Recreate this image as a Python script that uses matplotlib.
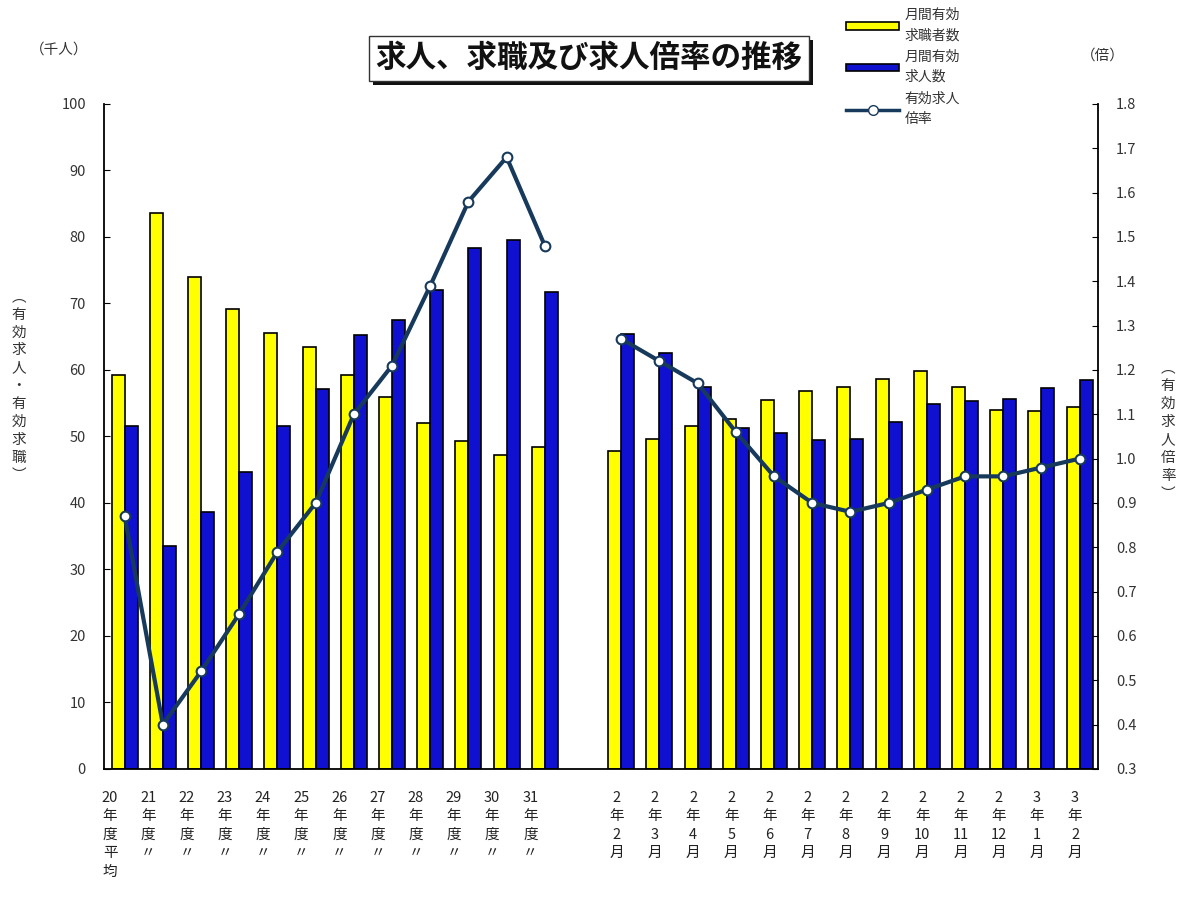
import matplotlib.pyplot as plt
import matplotlib.transforms as mtransforms
from matplotlib.patches import Patch, Rectangle
from matplotlib.lines import Line2D
import numpy as np

plt.rcParams['font.family'] = ['Noto Sans CJK JP', 'DejaVu Sans']

# 年度（平均）と月次、間に空白1つ
nendo = ['20\n年\n度\n平\n均', '21\n年\n度\n〃', '22\n年\n度\n〃', '23\n年\n度\n〃',
         '24\n年\n度\n〃', '25\n年\n度\n〃', '26\n年\n度\n〃', '27\n年\n度\n〃',
         '28\n年\n度\n〃', '29\n年\n度\n〃', '30\n年\n度\n〃', '31\n年\n度\n〃']
tsuki = ['2\n年\n2\n月', '2\n年\n3\n月', '2\n年\n4\n月', '2\n年\n5\n月', '2\n年\n6\n月',
         '2\n年\n7\n月', '2\n年\n8\n月', '2\n年\n9\n月', '2\n年\n10\n月', '2\n年\n11\n月',
         '2\n年\n12\n月', '3\n年\n1\n月', '3\n年\n2\n月']

kyushoku_nendo = [59.2, 83.6, 74.0, 69.1, 65.5, 63.5, 59.2, 56.0, 52.1, 49.3, 47.2, 48.4]
kyujin_nendo = [51.5, 33.6, 38.7, 44.7, 51.5, 57.2, 65.3, 67.5, 72.1, 78.4, 79.5, 71.8]
bairitsu_nendo = [0.87, 0.40, 0.52, 0.65, 0.79, 0.90, 1.10, 1.21, 1.39, 1.58, 1.68, 1.48]

kyushoku_tsuki = [47.8, 49.6, 51.6, 52.6, 55.5, 56.9, 57.5, 58.7, 59.8, 57.5, 54.0, 53.9, 54.4]
kyujin_tsuki = [65.4, 62.5, 57.4, 51.3, 50.5, 49.4, 49.6, 52.2, 54.9, 55.4, 55.6, 57.3, 58.5]
bairitsu_tsuki = [1.27, 1.22, 1.17, 1.06, 0.96, 0.90, 0.88, 0.90, 0.93, 0.96, 0.96, 0.98, 1.00]

kyushoku = np.array(kyushoku_nendo + [np.nan] + kyushoku_tsuki)
kyujin = np.array(kyujin_nendo + [np.nan] + kyujin_tsuki)
bairitsu = np.array(bairitsu_nendo + [np.nan] + bairitsu_tsuki)
x = np.arange(len(kyushoku))

kiiro = '#ffff00'
ao = '#1010d0'
sen = '#173a5c'

fig = plt.figure(figsize=(11.86, 8.98), dpi=100)
ax = fig.add_axes([0.0877, 0.1437, 0.8381, 0.7405])
ax2 = ax.twinx()

w = 0.34
ax.bar(x - w / 2, kyushoku, w, color=kiiro, edgecolor='black', linewidth=1.2)
ax.bar(x + w / 2, kyujin, w, color=ao, edgecolor='black', linewidth=1.2)
ax2.plot(x, bairitsu, color=sen, linewidth=3, marker='o', markersize=7,
         markerfacecolor='white', markeredgecolor=sen, markeredgewidth=1.5)

ax.set_xlim(-0.54, 25.48)
ax.set_ylim(0, 100)
ax.set_yticks(np.arange(0, 101, 10))
ax2.set_ylim(0.3, 1.8)
ax2.set_yticks(np.arange(0.3, 1.81, 0.1))
ax2.set_yticklabels(['%.1f' % v for v in np.arange(0.3, 1.81, 0.1)])

for a in (ax, ax2):
    a.spines['top'].set_visible(False)
    a.tick_params(axis='y', direction='in', length=4, width=0.8, labelsize=10.5,
                  labelcolor='#333333', pad=13)
ax.spines['right'].set_visible(False)
ax2.spines['left'].set_visible(False)
ax2.spines['bottom'].set_visible(False)
ax.spines['left'].set_linewidth(1.3)
ax2.spines['right'].set_linewidth(1.3)
ax.spines['bottom'].set_linewidth(1.3)
ax.set_xticks([])

# 横軸ラベル（縦書き）
trans = mtransforms.blended_transform_factory(ax.transData, ax.transAxes)
for i, lab in enumerate(nendo):
    ax.text(x[i] - 0.38, -0.033, lab, transform=trans, ha='center', va='top',
            fontsize=10.5, color='#222222', linespacing=1.4)
for i, lab in enumerate(tsuki):
    ax.text(x[13 + i] - 0.12, -0.033, lab, transform=trans, ha='center', va='top',
            fontsize=10.5, color='#222222', linespacing=1.4)

# 単位と軸タイトル
fig.text(0.05, 0.945, '（千人）', fontsize=10.5, color='#333333', ha='center', va='center')
fig.text(0.93, 0.938, '（倍）', fontsize=10.5, color='#333333', ha='center', va='center')
fig.text(0.016, 0.57, '\n'.join('︵有効求人・有効求職︶'), fontsize=10.5, color='#333333',
         ha='center', va='center', linespacing=1.35)
fig.text(0.985, 0.52, '\n'.join('︵有効求人倍率︶'), fontsize=10.5, color='#333333',
         ha='center', va='center', linespacing=1.35)

# タイトル（影付きの枠）
title = fig.text(0.4968, 0.935, '求人、求職及び求人倍率の推移', fontsize=22, fontweight='bold',
                 color='#111111', ha='center', va='center', zorder=5,
                 bbox=dict(boxstyle='square,pad=0.22', facecolor='white', edgecolor='#333333',
                           linewidth=1))
fig.canvas.draw()
bb = title.get_bbox_patch().get_window_extent()
fig.patches.append(Rectangle((bb.x0 + 4, bb.y0 - 4), bb.width, bb.height, transform=None,
                             facecolor='#111111', edgecolor='none', zorder=4))

# 凡例
handles = [Patch(facecolor=kiiro, edgecolor='black', linewidth=1.2),
           Patch(facecolor=ao, edgecolor='black', linewidth=1.2),
           Line2D([], [], color=sen, linewidth=2.5, marker='o', markersize=7,
                  markerfacecolor='white', markeredgecolor=sen)]
labels = ['月間有効\n求職者数', '月間有効\n求人数', '有効求人\n倍率']
leg = fig.legend(handles, labels, loc='upper left', bbox_to_anchor=(0.709, 0.997),
                 frameon=False, handlelength=3.8, handleheight=0.5, handletextpad=0.4,
                 labelspacing=0.55, borderaxespad=0, labelcolor='#333333', prop={'size': 10})
for t in leg.get_texts():
    t.set_linespacing(1.55)

fig.savefig('out.png', dpi=100)
